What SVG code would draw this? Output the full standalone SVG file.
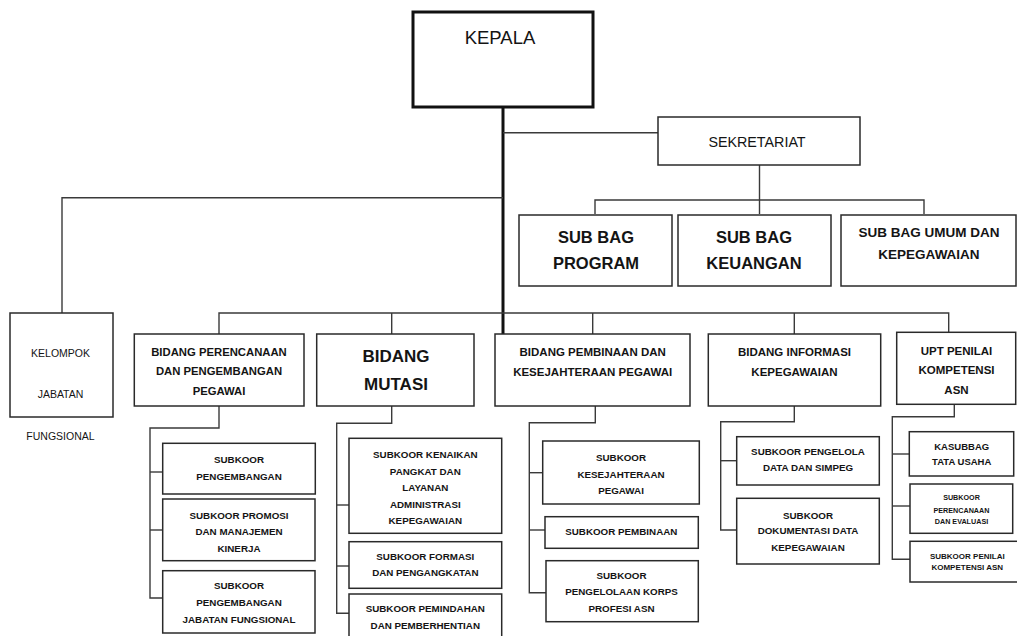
<svg xmlns="http://www.w3.org/2000/svg" width="1017" height="636" viewBox="0 0 1017 636">
<style>
.b{fill:#fff;stroke:#2a2a2a;stroke-width:1.5}
.c{fill:none;stroke:#3a3a3a;stroke-width:1.4}
text{font-family:"Liberation Sans",Arial,sans-serif;fill:#141414;text-anchor:middle}
.r{font-weight:normal}
.t{font-weight:bold}
.s10{font-size:9.8px}
</style>
<rect width="1017" height="636" fill="#fff"/>
<g id="connectors">
<line x1="503" y1="107" x2="503" y2="334" stroke="#111" stroke-width="3"/>
<polyline class="c" points="503,132.7 658,132.7"/>
<polyline class="c" points="759.5,165 759.5,214"/>
<polyline class="c" points="595,214 595,200 924,200 924,214"/>
<polyline class="c" points="62,313 62,197.7 503,197.7"/>
<polyline class="c" points="219,334 219,313 948.7,313 948.7,332.3"/>
<line class="c" x1="391.7" y1="313" x2="391.7" y2="334"/>
<line class="c" x1="592.7" y1="313" x2="592.7" y2="334"/>
<line class="c" x1="794.3" y1="313" x2="794.3" y2="334"/>
<polyline class="c" points="219,406 219,428 150,428 150,598 162.7,598"/>
<line class="c" x1="150" y1="472" x2="162.7" y2="472"/>
<line class="c" x1="150" y1="530" x2="162.7" y2="530"/>
<polyline class="c" points="391.7,406 391.7,423.3 336.7,423.3 336.7,613.3 349,613.3"/>
<line class="c" x1="336.7" y1="505" x2="349" y2="505"/>
<line class="c" x1="336.7" y1="566" x2="349" y2="566"/>
<polyline class="c" points="595.3,406 595.3,422.7 529.3,422.7 529.3,592.7 546,592.7"/>
<line class="c" x1="529.3" y1="472.7" x2="542.7" y2="472.7"/>
<line class="c" x1="529.3" y1="530" x2="545" y2="530"/>
<polyline class="c" points="794.3,406 794.3,421.7 720.7,421.7 720.7,530 736.7,530"/>
<line class="c" x1="720.7" y1="460.7" x2="736.7" y2="460.7"/>
<polyline class="c" points="954.3,404.3 954.3,416.7 892.3,416.7 892.3,559.3 910,559.3"/>
<line class="c" x1="892.3" y1="454" x2="909.3" y2="454"/>
<line class="c" x1="892.3" y1="506" x2="910" y2="506"/>
</g>
<g id="kepala">
<rect x="413" y="12" width="180" height="95" fill="#fff" stroke="#111" stroke-width="3"/>
<text class="r" x="500" y="44" font-size="18.5">KEPALA</text>
</g>
<g id="sekretariat">
<rect class="b" x="658" y="117" width="202" height="48"/>
<text class="r" x="757" y="147" font-size="14.3">SEKRETARIAT</text>
</g>
<g id="subbag-program">
<rect class="b" x="519" y="215" width="153" height="71"/>
<text class="t" x="596" y="242.5" font-size="16.5">SUB BAG</text>
<text class="t" x="596" y="269" font-size="16.5">PROGRAM</text>
</g>
<g id="subbag-keuangan">
<rect class="b" x="678" y="215" width="153" height="71"/>
<text class="t" x="754" y="242.5" font-size="16.5">SUB BAG</text>
<text class="t" x="754" y="269" font-size="16.5">KEUANGAN</text>
</g>
<g id="subbag-umum">
<rect class="b" x="841" y="215" width="175" height="71"/>
<text class="t" x="929" y="237" font-size="13.5">SUB BAG UMUM DAN</text>
<text class="t" x="929" y="259" font-size="13.5">KEPEGAWAIAN</text>
</g>
<g id="kelompok">
<rect class="b" x="10" y="313" width="103" height="104"/>
<text class="r" x="60.5" y="357" font-size="10.5">KELOMPOK</text>
<text class="r" x="60.5" y="398" font-size="10.5">JABATAN</text>
<text class="r" x="60.5" y="440" font-size="10.5">FUNGSIONAL</text>
</g>
<g id="bidang-perencanaan">
<rect class="b" x="134.3" y="334" width="169.7" height="72"/>
<text class="t" x="219" y="355.5" font-size="11.3">BIDANG PERENCANAAN</text>
<text class="t" x="219" y="375" font-size="11.3">DAN PENGEMBANGAN</text>
<text class="t" x="219" y="394.5" font-size="11.3">PEGAWAI</text>
</g>
<g id="bidang-mutasi">
<rect class="b" x="316.7" y="334" width="157.3" height="72"/>
<text class="t" x="396" y="362" font-size="17">BIDANG</text>
<text class="t" x="396" y="389.5" font-size="17">MUTASI</text>
</g>
<g id="bidang-pembinaan">
<rect class="b" x="495" y="334" width="195" height="72"/>
<text class="t" x="592.7" y="355.5" font-size="11.5">BIDANG PEMBINAAN DAN</text>
<text class="t" x="592.7" y="375.5" font-size="11.5">KESEJAHTERAAN PEGAWAI</text>
</g>
<g id="bidang-informasi">
<rect class="b" x="708.3" y="334" width="172.4" height="72"/>
<text class="t" x="794.5" y="355.5" font-size="11.5">BIDANG INFORMASI</text>
<text class="t" x="794.5" y="375.5" font-size="11.5">KEPEGAWAIAN</text>
</g>
<g id="upt">
<rect class="b" x="896.7" y="332.3" width="119" height="72"/>
<text class="t" x="956.5" y="355" font-size="11.5">UPT PENILAI</text>
<text class="t" x="956.5" y="374" font-size="11.5">KOMPETENSI</text>
<text class="t" x="956.5" y="393.5" font-size="11.5">ASN</text>
</g>
<g id="subkoor-pengembangan">
<rect class="b" x="162.7" y="443.3" width="152.6" height="50.7"/>
<text class="t s10" x="239" y="463">SUBKOOR</text>
<text class="t s10" x="239" y="479.5">PENGEMBANGAN</text>
</g>
<g id="subkoor-promosi">
<rect class="b" x="162.7" y="499" width="152.3" height="61.7"/>
<text class="t s10" x="239" y="518.5">SUBKOOR PROMOSI</text>
<text class="t s10" x="239" y="535.3">DAN MANAJEMEN</text>
<text class="t s10" x="239" y="552">KINERJA</text>
</g>
<g id="subkoor-jabfung">
<rect class="b" x="162.7" y="570.7" width="152.3" height="62.3"/>
<text class="t s10" x="239" y="589.3">SUBKOOR</text>
<text class="t s10" x="239" y="606.3">PENGEMBANGAN</text>
<text class="t s10" x="239" y="623">JABATAN FUNGSIONAL</text>
</g>
<g id="subkoor-kenaikan">
<rect class="b" x="349" y="438.3" width="152.7" height="95"/>
<text class="t s10" x="425.3" y="458">SUBKOOR KENAIKAN</text>
<text class="t s10" x="425.3" y="474.6">PANGKAT DAN</text>
<text class="t s10" x="425.3" y="491.2">LAYANAN</text>
<text class="t s10" x="425.3" y="508">ADMINISTRASI</text>
<text class="t s10" x="425.3" y="524">KEPEGAWAIAN</text>
</g>
<g id="subkoor-formasi">
<rect class="b" x="349" y="541.7" width="152.7" height="46.6"/>
<text class="t s10" x="425.3" y="560.3">SUBKOOR FORMASI</text>
<text class="t s10" x="425.3" y="576.3">DAN PENGANGKATAN</text>
</g>
<g id="subkoor-pemindahan">
<rect class="b" x="349" y="594" width="152.7" height="50"/>
<text class="t s10" x="425.3" y="612">SUBKOOR PEMINDAHAN</text>
<text class="t s10" x="425.3" y="628.5">DAN PEMBERHENTIAN</text>
</g>
<g id="subkoor-kesejahteraan">
<rect class="b" x="542.7" y="441" width="156.6" height="63"/>
<text class="t s10" x="621" y="461">SUBKOOR</text>
<text class="t s10" x="621" y="477.6">KESEJAHTERAAN</text>
<text class="t s10" x="621" y="494.3">PEGAWAI</text>
</g>
<g id="subkoor-pembinaan">
<rect class="b" x="545" y="516.7" width="153.3" height="31.6"/>
<text class="t s10" x="621.3" y="534.6">SUBKOOR PEMBINAAN</text>
</g>
<g id="subkoor-korps">
<rect class="b" x="546" y="560.7" width="152.3" height="61"/>
<text class="t s10" x="621.5" y="578.6">SUBKOOR</text>
<text class="t s10" x="621.5" y="595.3">PENGELOLAAN KORPS</text>
<text class="t s10" x="621.5" y="612">PROFESI ASN</text>
</g>
<g id="subkoor-simpeg">
<rect class="b" x="736.7" y="436.7" width="142.6" height="48.3"/>
<text class="t s10" x="808" y="455.3">SUBKOOR PENGELOLA</text>
<text class="t s10" x="808" y="471.3">DATA DAN SIMPEG</text>
</g>
<g id="subkoor-dokumentasi">
<rect class="b" x="736.7" y="498.3" width="142.6" height="65.7"/>
<text class="t s10" x="808" y="518.6">SUBKOOR</text>
<text class="t s10" x="808" y="533.6">DOKUMENTASI DATA</text>
<text class="t s10" x="808" y="551">KEPEGAWAIAN</text>
</g>
<g id="kasubbag-tu">
<rect class="b" x="909.3" y="431.7" width="104.4" height="44.3"/>
<text class="t" x="961.7" y="450.3" font-size="9.5">KASUBBAG</text>
<text class="t" x="961.7" y="464.6" font-size="9.5">TATA USAHA</text>
</g>
<g id="subkoor-perencanaan-evaluasi">
<rect class="b" x="910" y="484" width="102.7" height="49.3"/>
<text class="t" x="961.5" y="499.6" font-size="7.2">SUBKOOR</text>
<text class="t" x="961.5" y="512.5" font-size="7.2">PERENCANAAN</text>
<text class="t" x="961.5" y="523.5" font-size="7.2">DAN EVALUASI</text>
</g>
<g id="subkoor-penilai">
<rect class="b" x="910" y="541.3" width="110" height="40.7"/>
<text class="t" x="967.3" y="558.5" font-size="8">SUBKOOR PENILAI</text>
<text class="t" x="967.3" y="569.5" font-size="8">KOMPETENSI ASN</text>
</g>
</svg>
